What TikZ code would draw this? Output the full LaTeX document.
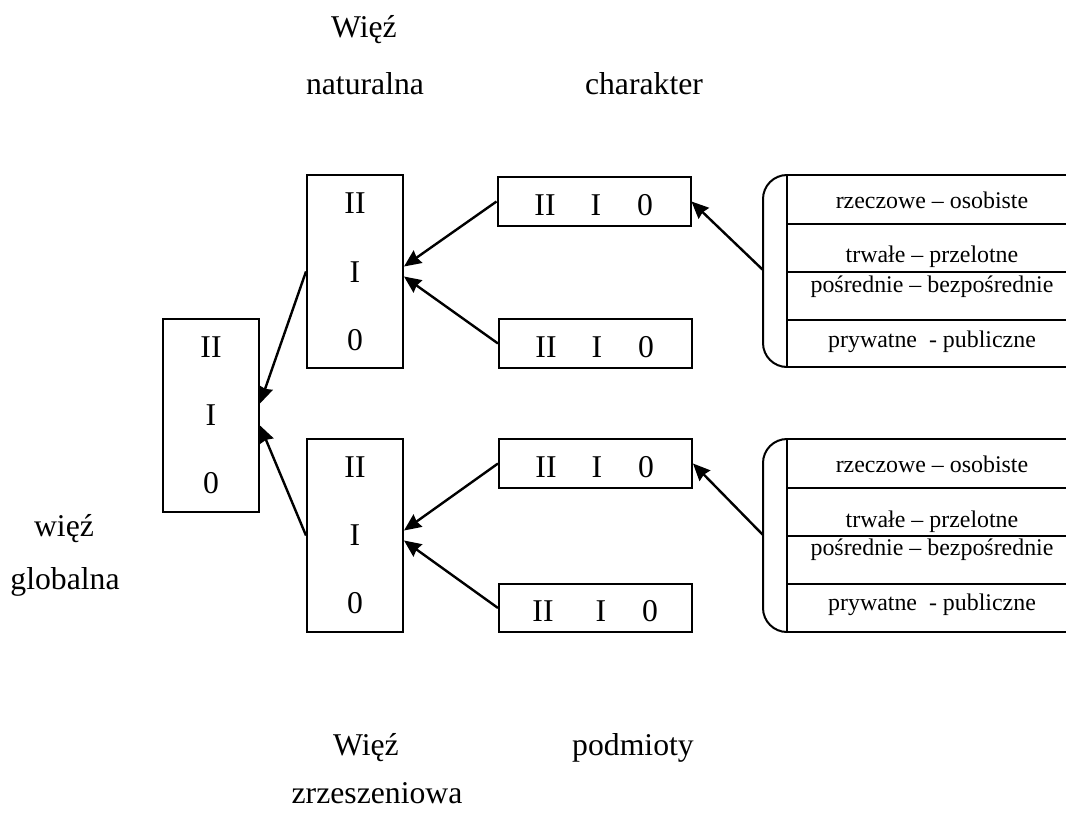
\documentclass[tikz,border=0pt]{standalone}
\usepackage{fontspec}
\setmainfont{Liberation Serif}
\usetikzlibrary{arrows.meta}
\tikzset{
  box/.style={draw, line width=2pt, inner sep=0pt, minimum width=96pt, minimum height=193pt},
  hbox/.style={draw, line width=2pt, inner sep=0pt, minimum width=193pt, minimum height=49pt},
  big/.style={inner sep=0pt, anchor=base, font=\fontsize{31.7}{38}\selectfont},
  small/.style={inner sep=0pt, anchor=base, font=\fontsize{23.9}{28}\selectfont},
  arr/.style={line width=2.4pt, -{Stealth[length=17pt, width=15pt, inset=1.5pt]}},
  brk/.style={line width=2pt},
}
\begin{document}
\begin{tikzpicture}[x=1pt, y=-1pt]
\useasboundingbox (0,0) rectangle (1066,812);

% labels
\node[big] (tW) at (364,37) {Więź};
\node[big] (tN) at (365,94) {naturalna};
\node[big] (tC) at (644,94) {charakter};
\node[big] (lW) at (64,536) {więź};
\node[big] (lG) at (65,589) {globalna};
\node[big] (bW) at (366,755) {Więź};
\node[big] (bP) at (633,755) {podmioty};
\node[big] (bZ) at (377,803) {zrzeszeniowa};

% vertical boxes
\node[box] (g) at (211,415.5) {};
\node[big] (g2) at (211,357) {II};
\node[big] (g1) at (211,425) {I};
\node[big] (g0) at (211,493) {0};

\node[box] (mU) at (355,271.5) {};
\node[big] (mU2) at (355,213) {II};
\node[big] (mU1) at (355,282) {I};
\node[big] (mU0) at (355,350) {0};

\node[box] (mL) at (355,535.5) {};
\node[big] (mL2) at (355,477) {II};
\node[big] (mL1) at (355,545) {I};
\node[big] (mL0) at (355,613) {0};

% horizontal boxes
\node[hbox] (hA) at (594,201.5) {};
\node[big] (hA2) at (545,215) {II};
\node[big] (hA1) at (596,215) {I};
\node[big] (hA0) at (645,215) {0};

\node[hbox] (hB) at (595.5,343.5) {};
\node[big] (hB2) at (546,357) {II};
\node[big] (hB1) at (597,357) {I};
\node[big] (hB0) at (646,357) {0};

\node[hbox] (hC) at (595.5,463.5) {};
\node[big] (hC2) at (546,477) {II};
\node[big] (hC1) at (597,477) {I};
\node[big] (hC0) at (646,477) {0};

\node[hbox, minimum height=48pt] (hD) at (595.5,608) {};
\node[big] (hD2) at (543,621) {II};
\node[big] (hD1) at (601,621) {I};
\node[big] (hD0) at (650,621) {0};

% upper bracket
\draw[brk, rounded corners=24pt] (787,175) -- (763,175) -- (763,367) -- (787,367);
\draw[brk] (787,175) -- (787,367);
\foreach \yy in {175,224,272,320,367} \draw[brk] (787,\yy) -- (1066,\yy);
\coordinate (brU) at (763,270);
\node[small] (u1) at (932,208) {rzeczowe – osobiste};
\node[small] (u2) at (932,262) {trwałe – przelotne};
\node[small] (u3) at (932,292) {pośrednie – bezpośrednie};
\node[small] (u4) at (932,347) {prywatne\ \ - publiczne};

% lower bracket
\draw[brk, rounded corners=24pt] (787,439) -- (763,439) -- (763,632) -- (787,632);
\draw[brk] (787,439) -- (787,632);
\foreach \yy in {439,488,536,584,632} \draw[brk] (787,\yy) -- (1066,\yy);
\coordinate (brL) at (763,535);
\node[small] (d1) at (932,472) {rzeczowe – osobiste};
\node[small] (d2) at (932,527) {trwałe – przelotne};
\node[small] (d3) at (932,555) {pośrednie – bezpośrednie};
\node[small] (d4) at (932,610) {prywatne\ \ - publiczne};

% arrows
\draw[arr] (mU.west) -- ([yshift=12pt]g.east);
\draw[arr] (mL.west) -- ([yshift=-10pt]g.east);
\draw[arr] (hA.west) -- ([yshift=5pt]mU.east);
\draw[arr] (hB.west) -- ([yshift=-5pt]mU.east);
\draw[arr] (hC.west) -- ([yshift=5pt]mL.east);
\draw[arr] (hD.west) -- ([yshift=-5pt]mL.east);
\draw[arr] (brU) -- (hA.east);
\draw[arr] (brL) -- (hC.east);
\end{tikzpicture}
\end{document}
